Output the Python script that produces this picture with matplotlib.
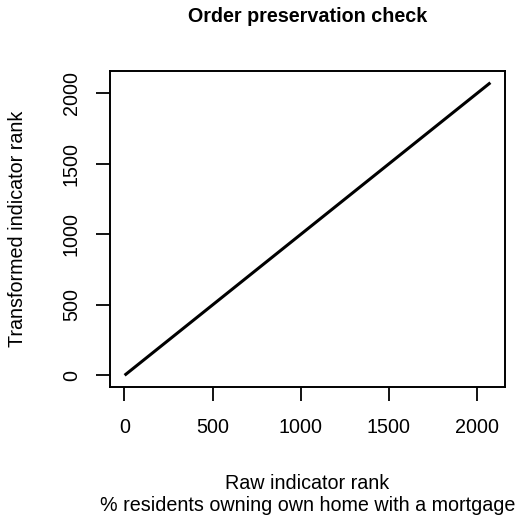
import matplotlib
matplotlib.use("Agg")
import matplotlib.pyplot as plt

# identity line between first and last rank
raw_rank = [1, 2076]
transformed_rank = [1, 2076]
x_ticks = [0, 500, 1000, 1500, 2000]
y_ticks = [0, 500, 1000, 1500, 2000]
title = "Order preservation check"
x_label = "Raw indicator rank\n% residents owning own home with a mortgage"
y_label = "Transformed indicator rank"

plt.rcParams['font.family'] = ['Liberation Sans', 'DejaVu Sans']
FS = 14.2

fig = plt.figure(figsize=(5.23, 5.25), dpi=100)
ax = fig.add_axes([0.2103, 0.2629, 0.7553, 0.6019])

ax.plot(raw_rank, transformed_rank, color='black', lw=2.2, solid_capstyle='butt')

# R-style 4% padding
span = raw_rank[-1] - raw_rank[0]
ax.set_xlim(raw_rank[0] - 0.04 * span, raw_rank[-1] + 0.04 * span)
ax.set_ylim(transformed_rank[0] - 0.04 * span, transformed_rank[-1] + 0.04 * span)

ax.set_xticks(x_ticks)
ax.set_yticks(y_ticks)
ax.tick_params(direction='out', length=10, width=1.3, labelsize=FS, pad=12, colors='black')
ax.tick_params(axis='y', labelrotation=90, pad=11)
for lab in ax.get_yticklabels():
    lab.set_va('center')
for s in ax.spines.values():
    s.set_linewidth(1.4)

cx = 0.2103 + 0.7553 / 2
fig.text(cx, 1 - 17 / 525, title, ha='center', va='center', fontsize=FS, fontweight='bold')
fig.text(cx, 1 - 494.5 / 525, x_label, ha='center', va='center', fontsize=FS, linespacing=1.2)
fig.text(18 / 523, 1 - 229 / 525, y_label, ha='center', va='center', rotation=90, fontsize=FS)

fig.savefig('out.png', dpi=100)
